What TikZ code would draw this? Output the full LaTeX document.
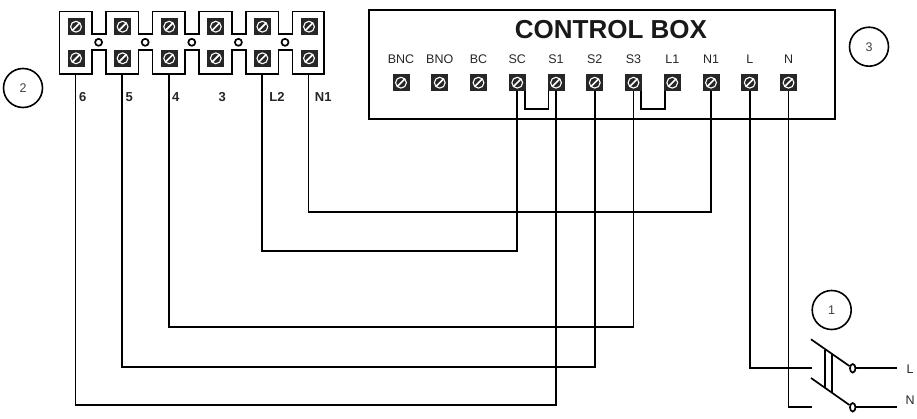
\documentclass[tikz,border=0pt]{standalone}
\usepackage{fontspec}
\setmainfont{Liberation Sans}
\usetikzlibrary{calc}
\usetikzlibrary{shapes.geometric}
\tikzset{
  wire/.style={line width=1.7pt, line join=miter},
  screw/.style={rectangle, fill=black!85, minimum size=17pt, inner sep=0pt,
    path picture={
      \draw [white, line width=1.1pt] (path picture bounding box.center) circle (5.4pt);
      \draw [white, line width=1.7pt] ($(path picture bounding box.center)+(-3.8pt,-3.8pt)$) -- ($(path picture bounding box.center)+(3.8pt,3.8pt)$);
    }},
  callout/.style={circle, draw, line width=1.6pt, minimum size=39pt, inner sep=0pt, text=black!75, font=\fontsize{12.5}{14}\selectfont},
  termlabel/.style={text=black!85, font=\fontsize{12.5}{14}\selectfont, inner sep=0pt},
  blocklabel/.style={text=black!85, font=\fontsize{13}{14}\selectfont\bfseries, inner sep=0pt},
  link/.style={circle, draw, line width=1.7pt, fill=white, minimum size=7pt, inner sep=0pt},
  contact/.style={ellipse, draw, line width=1.7pt, fill=white, minimum width=5.5pt, minimum height=8.5pt, inner sep=0pt}
}
\begin{document}
\begin{tikzpicture}[x=1pt,y=-1pt]
  \useasboundingbox (0,0) rectangle (917,418);
  % terminal block outline
  \draw [wire] (59.5,74) -- (59.5,11.5)
    \foreach \i in {0,...,4} {
      -- ({92+\i*46.6},11.5) -- ({92+\i*46.6},34) -- ({106+\i*46.6},34) -- ({106+\i*46.6},11.5)
    } -- (324,11.5) -- (324,74)
    \foreach \i in {4,3,...,0} {
      -- ({106+\i*46.6},74) -- ({106+\i*46.6},50) -- ({92+\i*46.6},50) -- ({92+\i*46.6},74)
    } -- cycle;
  \foreach \i/\name in {0/a,1/b,2/c,3/d,4/e,5/f} {
    \node [screw] (top\name) at ({76+\i*46.6},26.7) {};
    \node [screw] (bot\name) at ({76+\i*46.6},58.3) {};
    \coordinate (out\name) at ({75.5+\i*46.6},74);
  }
  \foreach \i in {0,...,4} {
    \node [link] (link\i) at ({98.6+\i*46.6},42.3) {};
  }
  % control box
  \draw [wire] (369,10) rectangle (835,119);
  \node [font=\fontsize{26}{30}\selectfont\bfseries, text=black!90] (title) at (611,29.5) {CONTROL BOX};
  \foreach \i/\name/\txt in {0/bnc/BNC,1/bno/BNO,2/bc/BC,3/sc/SC,4/sa/S1,5/sb/S2,6/sd/S3,7/la/L1,8/na/N1,9/l/L,10/n/N} {
    \node [screw] (\name) at ({401+\i*38.75},82.7) {};
    \node [termlabel] (lab\name) at ({401+\i*38.75},59.5) {\txt};
  }
  % block labels
  \node [blocklabel] (six) at (82.7,97) {6};
  \node [blocklabel] (five) at (129.3,97) {5};
  \node [blocklabel] (four) at (175.7,97) {4};
  \node [blocklabel] (three) at (222.3,97) {3};
  \node [blocklabel] (ltwo) at (277,97) {L2};
  \node [blocklabel] (none) at (323.3,97) {N1};
  % callouts
  \node [callout] (c2) at (23,88) {2};
  \node [callout] (c3) at (869,46.7) {3};
  \node [callout] (c1) at (831.7,310) {1};
  % wires to the block
  \foreach \from/\to/\run in {f/na/212,e/sc/251,c/sd/327,b/sb/367,a/sa/405} {
    \coordinate (run\from) at (0,\run);
    \draw [wire] (out\from) |- (\to |- run\from) -- (\to.south);
  }
  % jumpers
  \coordinate (jump) at (0,109);
  \foreach \left/\right in {sc/sa,sd/la} {
    \coordinate (from\left) at ($(\left.south)+(7.5,0)$);
    \coordinate (to\right) at ($(\right.south)+(-7.5,0)$);
    \draw [wire] (from\left) -- (from\left |- jump) -- (to\right |- jump) -- (to\right);
  }
  % switch
  \coordinate (swl) at (811.5,368.3);
  \coordinate (swn) at (811.5,407);
  \coordinate (bladel) at (811,339.3);
  \coordinate (bladen) at (811,378);
  \node [contact] (conl) at (852.7,368.3) {};
  \node [contact] (conn) at (852.7,407.3) {};
  \node [termlabel] (labll) at (910,369) {L};
  \node [termlabel] (labnn) at (910,400) {N};
  \coordinate (endl) at (897,368.3);
  \coordinate (endn) at (897,407.3);
  \draw [wire] (l.south) |- (swl);
  \draw [wire] (n.south) |- (swn);
  \draw [wire] (bladel) -- (conl);
  \draw [wire] (bladen) -- (conn);
  \draw [wire] (conl) -- (endl);
  \draw [wire] (conn) -- (endn);
  \draw [wire] (825,350) -- (825,387);
  \draw [wire] (831.7,354) -- (831.7,392);
\end{tikzpicture}
\end{document}
